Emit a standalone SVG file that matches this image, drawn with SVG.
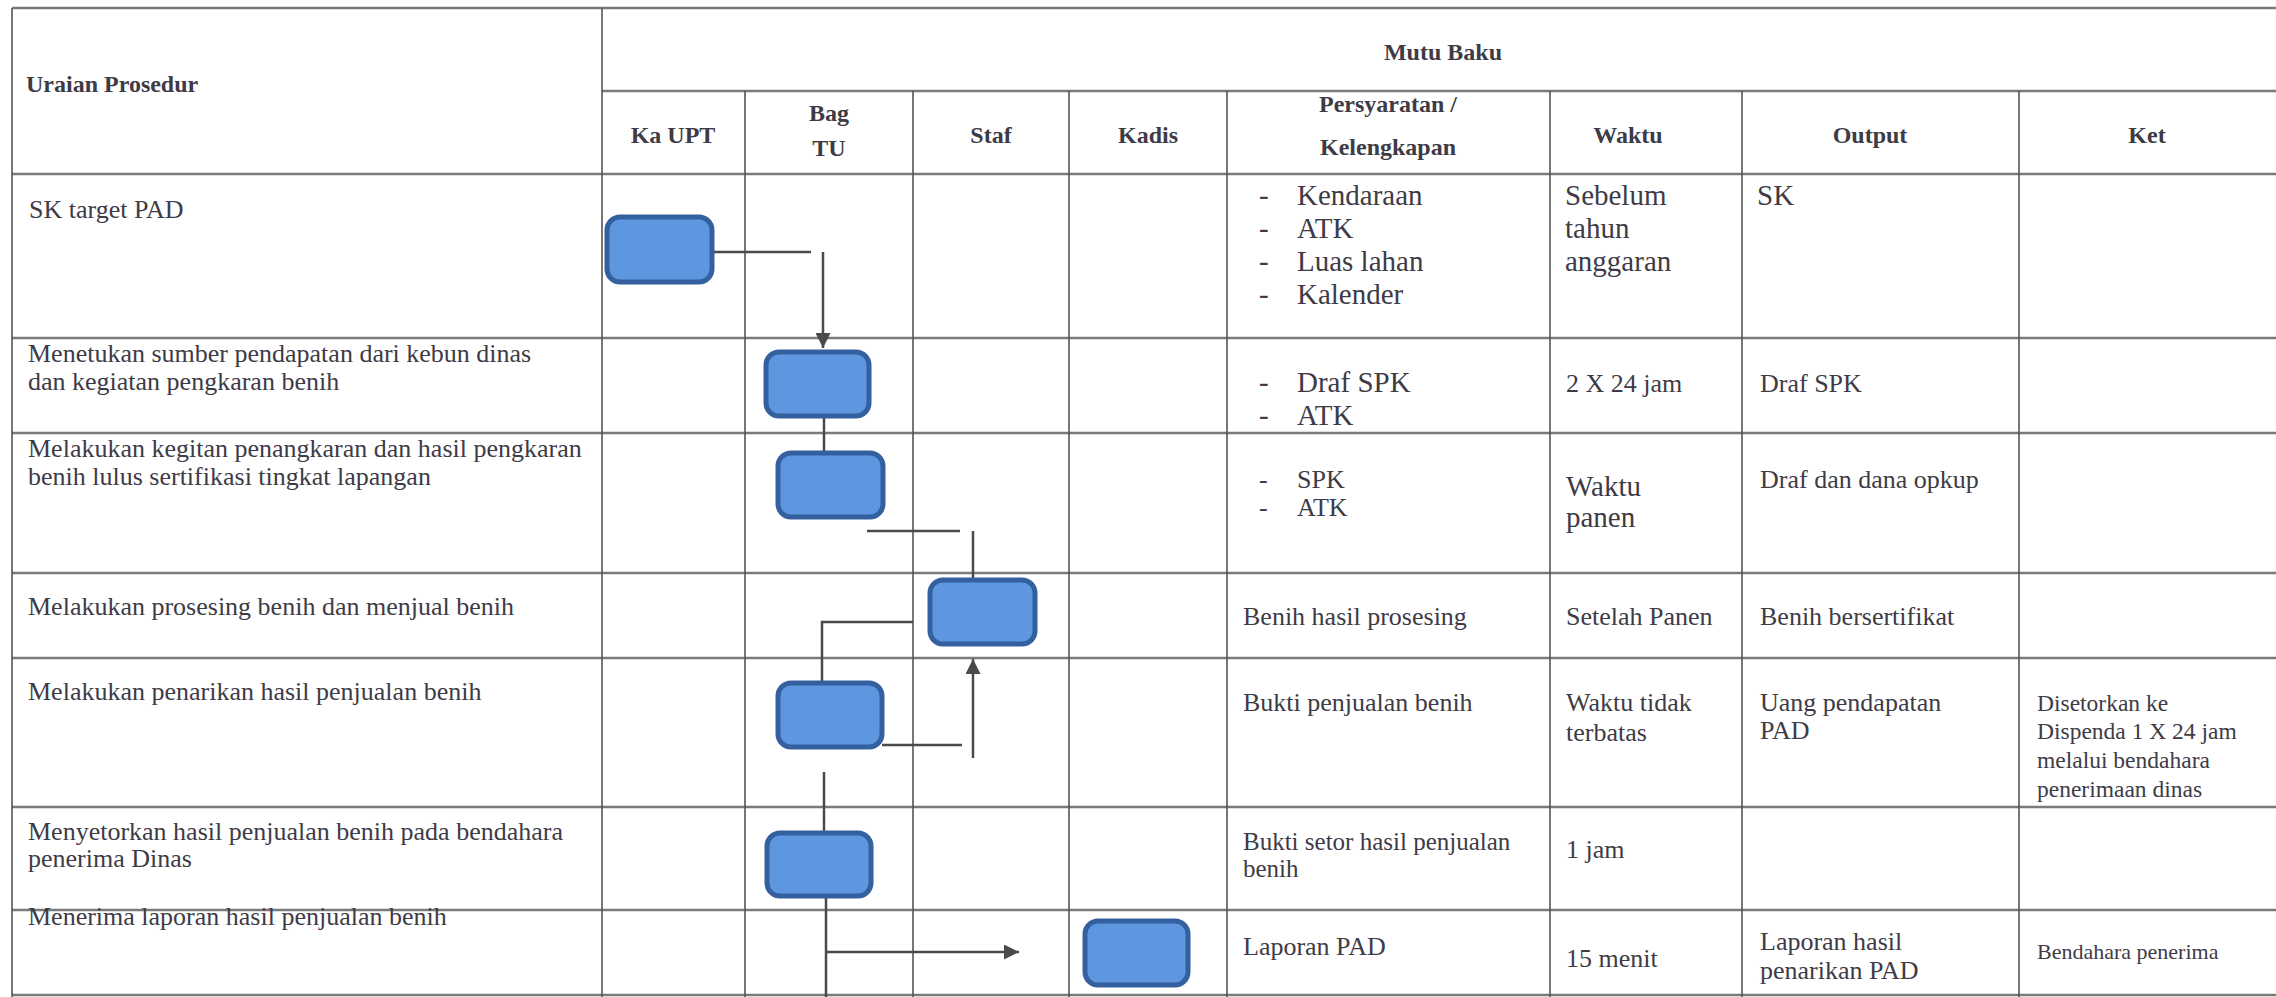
<svg xmlns="http://www.w3.org/2000/svg" width="2276" height="997" viewBox="0 0 2276 997">
<style>
.bg{fill:#ffffff}
.h{stroke:#7a7a7a;stroke-width:2.5;fill:none}
.v{stroke:#555555;stroke-width:1.6;fill:none}
.t{font-family:"Liberation Serif","Times New Roman",serif;font-size:26px;fill:#3e3b46}
.tb{font-family:"Liberation Serif","Times New Roman",serif;font-size:24px;font-weight:bold;fill:#3e3b46}
.big{font-size:29px}
.md{font-size:25px}
.sm{font-size:23.5px}
.xs{font-size:22px}
.mid{text-anchor:middle}
.box{fill:#5e96e0;stroke:#3560a0;stroke-width:5}
.c{stroke:#4a4a4a;stroke-width:2.5;fill:none}
</style>
<defs>
<marker id="ah" markerWidth="6" markerHeight="6" refX="6" refY="3" orient="auto" markerUnits="strokeWidth">
<path d="M0,0 L6,3 L0,6 Z" fill="#4a4a4a"/>
</marker>
</defs>
<rect class="bg" x="0" y="0" width="2276" height="997"/>

<g id="table">
<line class="h" x1="12" y1="8" x2="2276" y2="8"/>
<line class="h" x1="602" y1="91" x2="2276" y2="91"/>
<line class="h" x1="12" y1="174" x2="2276" y2="174"/>
<line class="h" x1="12" y1="338" x2="2276" y2="338"/>
<line class="h" x1="12" y1="433" x2="2276" y2="433"/>
<line class="h" x1="12" y1="573" x2="2276" y2="573"/>
<line class="h" x1="12" y1="658" x2="2276" y2="658"/>
<line class="h" x1="12" y1="807" x2="2276" y2="807"/>
<line class="h" x1="12" y1="910" x2="2276" y2="910"/>
<line class="h" x1="12" y1="995" x2="2276" y2="995"/>
<line class="v" x1="12" y1="8" x2="12" y2="997"/>
<line class="v" x1="602" y1="8" x2="602" y2="997"/>
<line class="v" x1="745" y1="91" x2="745" y2="997"/>
<line class="v" x1="913" y1="91" x2="913" y2="997"/>
<line class="v" x1="1069" y1="91" x2="1069" y2="997"/>
<line class="v" x1="1227" y1="91" x2="1227" y2="997"/>
<line class="v" x1="1550" y1="91" x2="1550" y2="997"/>
<line class="v" x1="1742" y1="91" x2="1742" y2="997"/>
<line class="v" x1="2019" y1="91" x2="2019" y2="997"/>
</g>

<g id="header">
<text class="tb" x="26" y="92">Uraian Prosedur</text>
<text class="tb mid" x="1443" y="60">Mutu Baku</text>
<text class="tb mid" x="673" y="143">Ka UPT</text>
<text class="tb mid" x="829" y="121">Bag</text>
<text class="tb mid" x="829" y="156">TU</text>
<text class="tb mid" x="991" y="143">Staf</text>
<text class="tb mid" x="1148" y="143">Kadis</text>
<text class="tb mid" x="1388" y="112">Persyaratan /</text>
<text class="tb mid" x="1388" y="155">Kelengkapan</text>
<text class="tb mid" x="1628" y="143">Waktu</text>
<text class="tb mid" x="1870" y="143">Output</text>
<text class="tb mid" x="2147" y="143">Ket</text>
</g>

<g id="uraian">
<text class="t" x="29" y="218">SK target PAD</text>
<text class="t" x="28" y="362">Menetukan sumber pendapatan dari kebun dinas</text>
<text class="t" x="28" y="390">dan kegiatan pengkaran benih</text>
<text class="t" x="28" y="457">Melakukan kegitan penangkaran dan hasil pengkaran</text>
<text class="t" x="28" y="485">benih lulus sertifikasi tingkat lapangan</text>
<text class="t" x="28" y="615">Melakukan prosesing benih dan menjual benih</text>
<text class="t" x="28" y="700">Melakukan penarikan hasil penjualan benih</text>
<text class="t" x="28" y="840">Menyetorkan hasil penjualan benih pada bendahara</text>
<text class="t" x="28" y="867">penerima Dinas</text>
<text class="t" x="28" y="925">Menerima laporan hasil penjualan benih</text>
</g>

<g id="persyaratan">
<text class="t big" x="1259" y="205">-</text><text class="t big" x="1297" y="205">Kendaraan</text>
<text class="t big" x="1259" y="238">-</text><text class="t big" x="1297" y="238">ATK</text>
<text class="t big" x="1259" y="271">-</text><text class="t big" x="1297" y="271">Luas lahan</text>
<text class="t big" x="1259" y="304">-</text><text class="t big" x="1297" y="304">Kalender</text>
<text class="t big" x="1259" y="392">-</text><text class="t big" x="1297" y="392">Draf SPK</text>
<text class="t big" x="1259" y="425">-</text><text class="t big" x="1297" y="425">ATK</text>
<text class="t" x="1259" y="488">-</text><text class="t" x="1297" y="488">SPK</text>
<text class="t" x="1259" y="516">-</text><text class="t" x="1297" y="516">ATK</text>
<text class="t" x="1243" y="625">Benih hasil prosesing</text>
<text class="t" x="1243" y="711">Bukti penjualan benih</text>
<text class="t md" x="1243" y="850">Bukti setor hasil penjualan</text>
<text class="t md" x="1243" y="877">benih</text>
<text class="t" x="1243" y="955">Laporan PAD</text>
</g>

<g id="waktu">
<text class="t big" x="1565" y="205">Sebelum</text>
<text class="t big" x="1565" y="238">tahun</text>
<text class="t big" x="1565" y="271">anggaran</text>
<text class="t" x="1566" y="392">2 X 24 jam</text>
<text class="t big" x="1566" y="496">Waktu</text>
<text class="t big" x="1566" y="527">panen</text>
<text class="t" x="1566" y="625">Setelah Panen</text>
<text class="t" x="1566" y="711">Waktu tidak</text>
<text class="t" x="1566" y="741">terbatas</text>
<text class="t" x="1566" y="858">1 jam</text>
<text class="t" x="1566" y="967">15 menit</text>
</g>

<g id="output">
<text class="t big" x="1757" y="205">SK</text>
<text class="t" x="1760" y="392">Draf SPK</text>
<text class="t" x="1760" y="488">Draf dan dana opkup</text>
<text class="t" x="1760" y="625">Benih bersertifikat</text>
<text class="t" x="1760" y="711">Uang pendapatan</text>
<text class="t" x="1760" y="739">PAD</text>
<text class="t" x="1760" y="950">Laporan hasil</text>
<text class="t" x="1760" y="979">penarikan PAD</text>
</g>

<g id="ket">
<text class="t sm" x="2037" y="711">Disetorkan ke</text>
<text class="t sm" x="2037" y="739">Dispenda 1 X 24 jam</text>
<text class="t sm" x="2037" y="768">melalui bendahara</text>
<text class="t sm" x="2037" y="797">penerimaan dinas</text>
<text class="t xs" x="2037" y="959">Bendahara penerima</text>
</g>

<g id="connectors">
<line class="c" x1="712" y1="252" x2="811" y2="252"/>
<line class="c" x1="823" y1="252" x2="823" y2="348" marker-end="url(#ah)"/>
<line class="c" x1="824" y1="416" x2="824" y2="453"/>
<line class="c" x1="867" y1="531" x2="960" y2="531"/>
<line class="c" x1="973" y1="531" x2="973" y2="580"/>
<polyline class="c" points="913,622 822,622 822,683"/>
<line class="c" x1="882" y1="745" x2="962" y2="745"/>
<line class="c" x1="973" y1="758" x2="973" y2="659" marker-end="url(#ah)"/>
<line class="c" x1="824" y1="772" x2="824" y2="833"/>
<line class="c" x1="826" y1="896" x2="826" y2="997"/>
<line class="c" x1="826" y1="952" x2="1019" y2="952" marker-end="url(#ah)"/>
</g>

<g id="n1"><rect class="box" x="607" y="217" width="105" height="65" rx="13"/></g>
<g id="n2"><rect class="box" x="766" y="352" width="103" height="64" rx="13"/></g>
<g id="n3"><rect class="box" x="778" y="453" width="105" height="64" rx="13"/></g>
<g id="n4"><rect class="box" x="930" y="580" width="105" height="64" rx="13"/></g>
<g id="n5"><rect class="box" x="778" y="683" width="104" height="64" rx="13"/></g>
<g id="n6"><rect class="box" x="767" y="833" width="104" height="63" rx="13"/></g>
<g id="n7"><rect class="box" x="1085" y="921" width="103" height="64" rx="13"/></g>
</svg>
